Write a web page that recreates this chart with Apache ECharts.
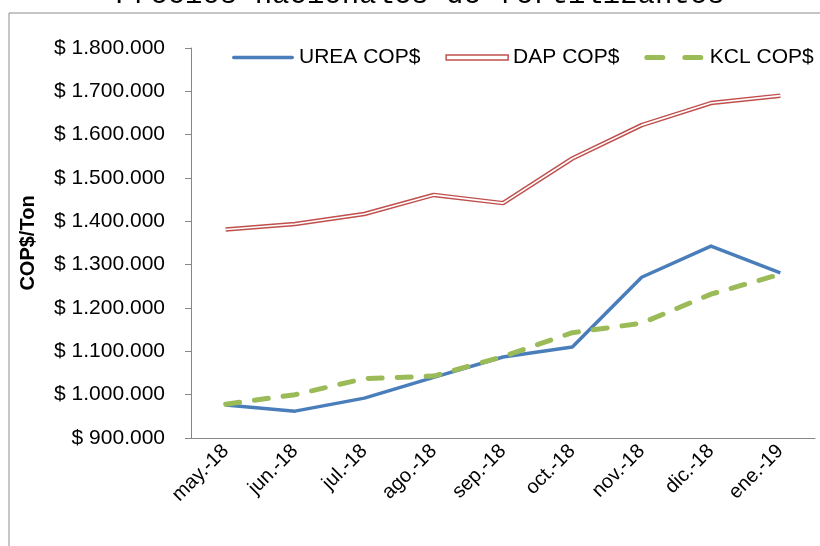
<!DOCTYPE html>
<html>
<head>
<meta charset="utf-8">
<script src="https://cdn.jsdelivr.net/npm/echarts@6/dist/echarts.min.js"></script>
<style>
html, body { margin: 0; padding: 0; background: #fff; }
#chart { width: 820px; height: 546px; }
</style>
</head>
<body>
<div id="chart"></div>
<script>
// precios mensuales por tonelada (COP$)
const meses = ['may.-18', 'jun.-18', 'jul.-18', 'ago.-18', 'sep.-18', 'oct.-18', 'nov.-18', 'dic.-18', 'ene.-19'];
const urea = [976000, 962000, 992000, 1040000, 1087000, 1110000, 1271000, 1343000, 1281000];
const dap = [1381000, 1394000, 1417000, 1461000, 1442000, 1545000, 1622000, 1673000, 1690000];
const kcl = [978000, 1000000, 1037000, 1043000, 1088000, 1143000, 1165000, 1232000, 1278000];

const font = '"Liberation Sans", Arial, sans-serif';

function pesos(v) {
  return '$ ' + String(v).replace(/\B(?=(\d{3})+(?!\d))/g, '.');
}

// iconos de la leyenda (linea continua y dos trazos)
const iconoUrea = 'path://M1.75,0h58.5a1.75,1.75 0 0 1 0,3.5h-58.5a1.75,1.75 0 0 1 0,-3.5z';
const iconoKcl = 'path://M2.5,0h16a2.5,2.5 0 0 1 0,5h-16a2.5,2.5 0 0 1 0,-5z M40.5,0h16a2.5,2.5 0 0 1 0,5h-16a2.5,2.5 0 0 1 0,-5z';

const chart = echarts.init(document.getElementById('chart'));

const option = {
  animation: false,
  textStyle: { fontFamily: font },
  graphic: [
    {
      type: 'rect',
      shape: { x: 9, y: 13, width: 830, height: 560 },
      style: { fill: 'none', stroke: '#8c8c8c', lineWidth: 1 },
      silent: true
    },
    {
      type: 'text',
      style: {
        text: 'Precios nacionales de fertilizantes',
        x: 420,
        y: 10,
        textAlign: 'center',
        textVerticalAlign: 'bottom',
        font: '29px "Liberation Mono", "Courier New", monospace',
        fill: '#000'
      },
      silent: true
    }
  ],
  legend: {
    left: 227,
    top: 42,
    itemWidth: 62,
    itemHeight: 5,
    itemGap: 25,
    textStyle: { fontSize: 21, color: '#000', fontFamily: font },
    data: [
      { name: 'UREA COP$', icon: iconoUrea },
      { name: 'DAP COP$', icon: 'rect', itemStyle: { color: '#fff', borderColor: '#c0504d', borderWidth: 1.5 } },
      { name: 'KCL COP$', icon: iconoKcl }
    ]
  },
  grid: { left: 191, right: 5, top: 48, bottom: 108 },
  xAxis: {
    type: 'category',
    data: meses,
    boundaryGap: true,
    axisLine: { lineStyle: { color: '#868686', width: 1 } },
    axisTick: { length: 5, lineStyle: { color: '#868686' } },
    axisLabel: { rotate: 45, fontSize: 20, color: '#000', margin: 10, interval: 0 }
  },
  yAxis: {
    type: 'value',
    min: 900000,
    max: 1800000,
    interval: 100000,
    name: 'COP$/Ton',
    nameLocation: 'middle',
    nameGap: 153,
    nameRotate: 90,
    nameTextStyle: { fontSize: 20, fontWeight: 'bold', color: '#000' },
    splitLine: { show: false },
    axisLine: { show: true, lineStyle: { color: '#868686', width: 1 } },
    axisTick: { show: true, length: 6, lineStyle: { color: '#868686' } },
    axisLabel: { fontSize: 21, color: '#000', margin: 26, formatter: pesos }
  },
  series: [
    {
      name: 'UREA COP$',
      type: 'line',
      data: urea,
      symbol: 'none',
      color: '#4a7ebb',
      lineStyle: { width: 3.5, color: '#4a7ebb', join: 'round' },
      z: 3
    },
    {
      name: 'DAP COP$',
      type: 'line',
      data: dap,
      symbol: 'none',
      color: '#c0504d',
      lineStyle: { width: 4.5, color: '#c0504d' },
      z: 2
    },
    {
      name: 'DAP interior',
      type: 'line',
      data: dap,
      symbol: 'none',
      silent: true,
      lineStyle: { width: 1.6, color: '#fff' },
      z: 2
    },
    {
      name: 'KCL COP$',
      type: 'line',
      data: kcl,
      symbol: 'none',
      color: '#9bbb59',
      lineStyle: { width: 5, color: '#9bbb59', type: [14, 15], cap: 'round' },
      z: 4
    }
  ]
};

chart.setOption(option);
</script>
</body>
</html>
